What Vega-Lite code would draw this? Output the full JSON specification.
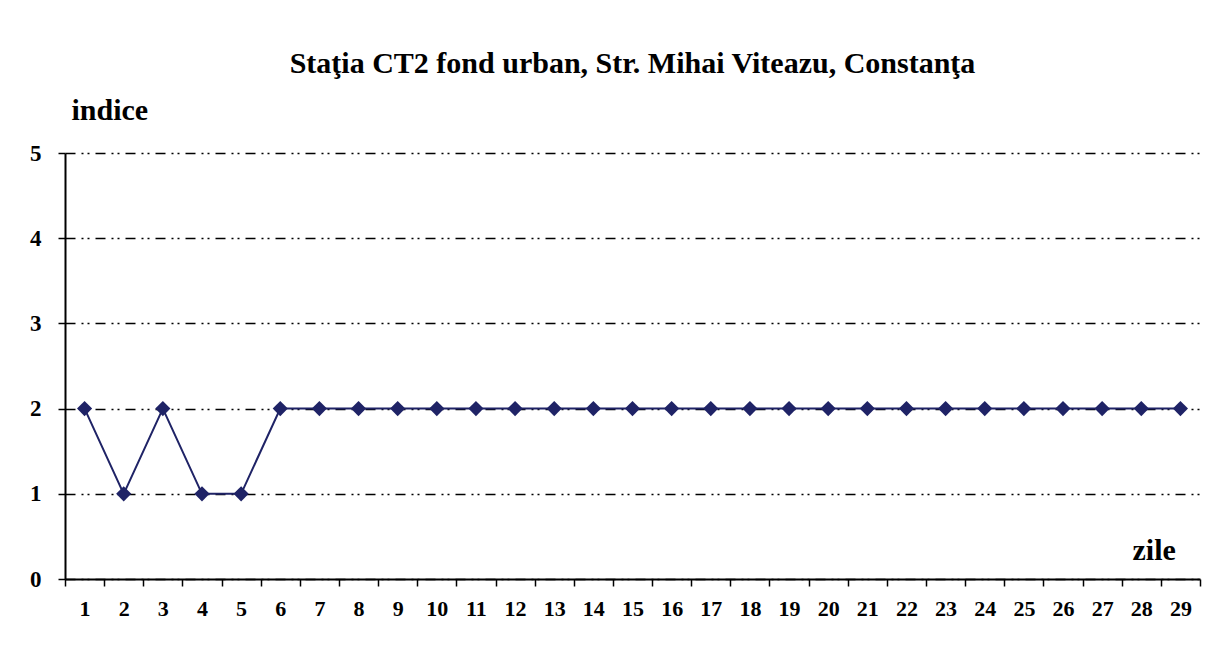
{
  "$schema": "https://vega.github.io/schema/vega-lite/v6.json",
  "autosize": "none",
  "width": 1135,
  "height": 426,
  "padding": {"left": 65, "top": 153, "right": 24, "bottom": 86},
  "background": "white",
  "config": {
    "view": {"stroke": null},
    "font": "Liberation Serif"
  },
  "title": {
    "text": "Staţia CT2 fond urban,  Str. Mihai  Viteazu, Constanţa",
    "font": "Liberation Serif",
    "fontSize": 30,
    "fontWeight": "bold",
    "color": "black",
    "anchor": "middle",
    "offset": 16
  },
  "data": {
    "values": [
      {"zi": 1, "indice": 2}, {"zi": 2, "indice": 1}, {"zi": 3, "indice": 2},
      {"zi": 4, "indice": 1}, {"zi": 5, "indice": 1}, {"zi": 6, "indice": 2},
      {"zi": 7, "indice": 2}, {"zi": 8, "indice": 2}, {"zi": 9, "indice": 2},
      {"zi": 10, "indice": 2}, {"zi": 11, "indice": 2}, {"zi": 12, "indice": 2},
      {"zi": 13, "indice": 2}, {"zi": 14, "indice": 2}, {"zi": 15, "indice": 2},
      {"zi": 16, "indice": 2}, {"zi": 17, "indice": 2}, {"zi": 18, "indice": 2},
      {"zi": 19, "indice": 2}, {"zi": 20, "indice": 2}, {"zi": 21, "indice": 2},
      {"zi": 22, "indice": 2}, {"zi": 23, "indice": 2}, {"zi": 24, "indice": 2},
      {"zi": 25, "indice": 2}, {"zi": 26, "indice": 2}, {"zi": 27, "indice": 2},
      {"zi": 28, "indice": 2}, {"zi": 29, "indice": 2}
    ]
  },
  "encoding": {
    "x": {
      "field": "zi",
      "type": "ordinal",
      "sort": "ascending",
      "scale": {"type": "band", "paddingInner": 0, "paddingOuter": 0},
      "axis": {
        "title": "zile",
        "titleFont": "Liberation Serif",
        "titleFontSize": 30,
        "titleFontWeight": "bold",
        "titleColor": "black",
        "titleAlign": "left",
        "titleBaseline": "alphabetic",
        "titleX": 1067,
        "titleY": -20,
        "labelAngle": 0,
        "labelFont": "Liberation Serif",
        "labelFontSize": 22,
        "labelFontWeight": "bold",
        "labelColor": "black",
        "labelPadding": 12,
        "tickBand": "extent",
        "tickSize": 7,
        "tickColor": "black",
        "tickWidth": 1.5,
        "domainColor": "black",
        "domainWidth": 2,
        "grid": false
      }
    },
    "y": {
      "field": "indice",
      "type": "quantitative",
      "scale": {"domain": [0, 5], "nice": false},
      "axis": {
        "values": [0, 1, 2, 3, 4, 5],
        "title": "indice",
        "titleFont": "Liberation Serif",
        "titleFontSize": 30,
        "titleFontWeight": "bold",
        "titleColor": "black",
        "titleAngle": 0,
        "titleAlign": "left",
        "titleBaseline": "alphabetic",
        "titleX": 6,
        "titleY": -34,
        "labelFont": "Liberation Serif",
        "labelFontSize": 23,
        "labelFontWeight": "bold",
        "labelColor": "black",
        "labelPadding": 17,
        "tickSize": 7,
        "tickColor": "black",
        "tickWidth": 1.5,
        "domainColor": "black",
        "domainWidth": 2,
        "grid": true,
        "gridColor": "black",
        "gridWidth": 1.5,
        "gridDash": [10, 6, 2, 4, 2, 6]
      }
    }
  },
  "layer": [
    {
      "mark": {"type": "line", "color": "#1f2366", "strokeWidth": 2}
    },
    {
      "mark": {"type": "point", "shape": "diamond", "filled": true, "size": 230, "color": "#1f2366", "opacity": 1}
    }
  ]
}
